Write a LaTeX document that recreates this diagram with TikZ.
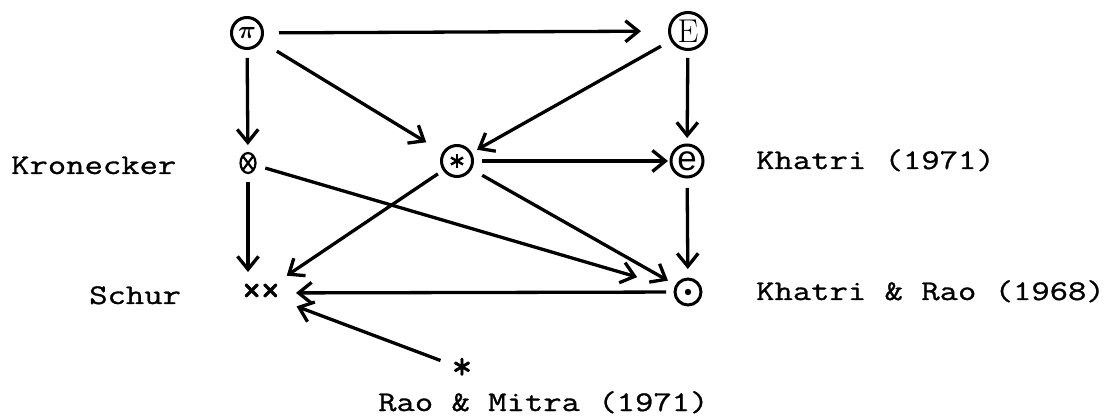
\documentclass[tikz,border=0pt]{standalone}
\usepackage{fontspec}
\usepackage{bm}
\newfontfamily\tw[FakeStretch=1.25,FakeBold=1]{Latin Modern Mono}
\newfontfamily\twn[FakeBold=1.5]{Latin Modern Mono}
\newfontfamily\sansf{Liberation Sans}
\usetikzlibrary{arrows.meta,shapes.geometric}
\begin{document}
\begin{tikzpicture}[x=1pt,y=-1pt,
  conn/.style={line width=3.3pt, -{Straight Barb[length=13pt,width=21pt,line width=3.3pt]}},
  circnode/.style={circle, draw, line width=3pt, inner sep=0pt},
  lab/.style={font=\tw\fontsize{28.5}{34}\selectfont, inner sep=0pt, anchor=base west},
  sym/.style={font=\twn\fontsize{40}{40}\selectfont, inner sep=0pt},
  aster/.style={path picture={\foreach \a in {90,30,150}{\draw[line width=2.4pt] (path picture bounding box.center) ++(\a:7) -- ++(\a+180:14);}}},
]
\useasboundingbox (0,0) rectangle (1119,419);

% nodes
\node[circnode, minimum size=31pt] (pi) at (247,33) {\fontsize{30}{30}\selectfont$\bm{\pi}$};
\node[circnode, minimum size=37pt] (E) at (688,31) {\fontsize{33}{33}\selectfont E};
\node[draw, ellipse, minimum width=15pt, minimum height=20pt, inner sep=0pt, line width=2.2pt,
  path picture={\draw[line width=2.2pt] (path picture bounding box.north west) -- (path picture bounding box.south east)
   (path picture bounding box.north east) -- (path picture bounding box.south west);}] (otimes) at (248,163) {};
\node[circnode, minimum size=31pt, aster] (ostar) at (457,161) {};
\node[circnode, minimum size=32pt] (e) at (687,161) {\sansf\fontsize{35}{35}\selectfont e};
\node[circnode, minimum size=26pt, line width=3pt,
  path picture={\fill (path picture bounding box.center) circle (3.2pt);}] (odot) at (688,292) {};
\node[sym] (xx) at (261,293) {×\kern-2pt×};
\node[sym, anchor=base, text depth=0pt] (star) at (462,379) {*};

% labels
\node[lab] (kron) at (11,174) {Kronecker};
\node[lab] (schur) at (89,304) {Schur};
\node[lab] (khatri) at (756,169) {Khatri (1971)};
\node[lab] (khrao) at (756,300) {Khatri \& Rao (1968)};
\node[lab] (raomitra) at (378,411) {Rao \& Mitra (1971)};

% connectors
\draw[conn, shorten <=32pt, shorten >=47pt] (pi.center) -- (E.center);
\draw[conn, shorten <=25pt, shorten >=18pt] (pi.center) -- (otimes.center);
\draw[conn, shorten <=35pt, shorten >=36pt] (pi.center) -- (ostar.center);
\draw[conn, shorten <=31pt, shorten >=23pt] (E.center) -- (ostar.center);
\draw[conn, shorten <=27pt, shorten >=23pt] (E.center) -- (e.center);
\draw[conn, shorten <=25pt, shorten >=19pt] (ostar.center) -- (e.center);
\draw[conn, shorten <=18pt, shorten >=53pt] (otimes.center) -- (odot.center);
\draw[conn, shorten <=29pt, shorten >=23pt] (ostar.center) -- (odot.center);
\draw[conn, shorten <=23pt, shorten >=31pt] (ostar.center) -- (xx.center);
\draw[conn, shorten <=19pt, shorten >=21pt] (otimes.center) -- (otimes.center |- xx.center);
\draw[conn, shorten <=22pt, shorten >=35pt] (odot.center) -- (xx.center);
\draw[conn, shorten <=27pt, shorten >=23pt] (e.center) -- (odot.center);
\draw[conn, shorten <=23pt, shorten >=38pt] (star.center) -- (xx.center);
\end{tikzpicture}
\end{document}
